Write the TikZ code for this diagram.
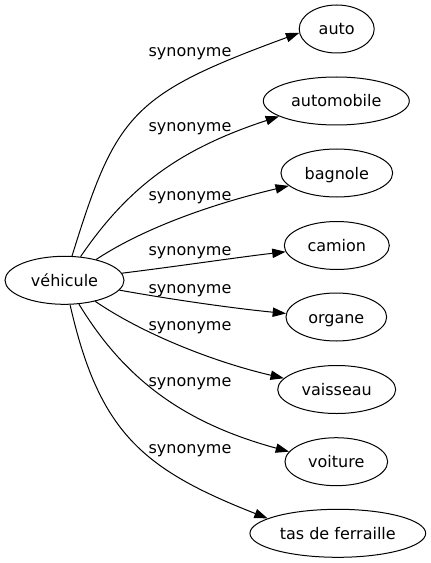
\documentclass[tikz,border=0pt]{standalone}
\usepackage{fontspec}
\setmainfont{DejaVu Sans}
\usetikzlibrary{shapes.geometric,arrows.meta}
\tikzset{
  nd/.style={ellipse, draw, line width=0.75pt, inner sep=0pt, minimum height=36pt,
    text height=9pt, text depth=0pt, font=\fontsize{12pt}{14pt}\selectfont},
  lbl/.style={inner sep=0pt, anchor=base, font=\fontsize{12pt}{14pt}\selectfont},
  edg/.style={line width=0.75pt, -{Triangle[length=10pt,width=7pt]}}
}
\begin{document}
\begin{tikzpicture}[x=0.75pt,y=-0.75pt]
\useasboundingbox (0,0) rectangle (431,563);
\node[nd, minimum width=89.25pt] (veh) at (64.5,280.3) {véhicule};
\node[nd, minimum width=56.25pt] (auto) at (336.7,29) {auto};
\node[nd, minimum width=109.5pt] (automobile) at (336.3,101) {automobile};
\node[nd, minimum width=83.8pt] (bagnole) at (336.8,173) {bagnole};
\node[nd, minimum width=78.75pt] (camion) at (336.8,245.5) {camion};
\node[nd, minimum width=75.5pt] (organe) at (336.3,317) {organe};
\node[nd, minimum width=88.5pt] (vaisseau) at (336.7,389.5) {vaisseau};
\node[nd, minimum width=77pt] (voiture) at (336.3,461.7) {voiture};
\node[nd, minimum width=131.8pt] (tas) at (337.8,533.3) {tas de ferraille};

\node[lbl] (l1) at (190,57) {synonyme};
\node[lbl] (l2) at (190,132) {synonyme};
\node[lbl] (l3) at (190,200) {synonyme};
\node[lbl] (l4) at (190,255) {synonyme};
\node[lbl] (l5) at (190,293) {synonyme};
\node[lbl] (l6) at (190,330) {synonyme};
\node[lbl] (l7) at (190,386) {synonyme};
\node[lbl] (l8) at (190,453) {synonyme};

\draw[edg] (veh) .. controls (116,114) and (131,94.6) .. (auto.186);
\draw[edg] (veh) .. controls (130,184) and (183,148) .. (automobile.195);
\draw[edg] (veh) .. controls (147,226) and (218.5,202.4) .. (bagnole.195);
\draw[edg] (veh) .. controls (180,266) and (240,257) .. (camion.187);
\draw[edg] (veh) .. controls (180,301) and (240,309) .. (organe.176);
\draw[edg] (veh) .. controls (143,334) and (214,362) .. (vaisseau.168.5);
\draw[edg] (veh) .. controls (124.7,379.5) and (184,423) .. (voiture.168);
\draw[edg] (veh) .. controls (99,432) and (142,469) .. (tas.168.4);
\end{tikzpicture}
\end{document}
